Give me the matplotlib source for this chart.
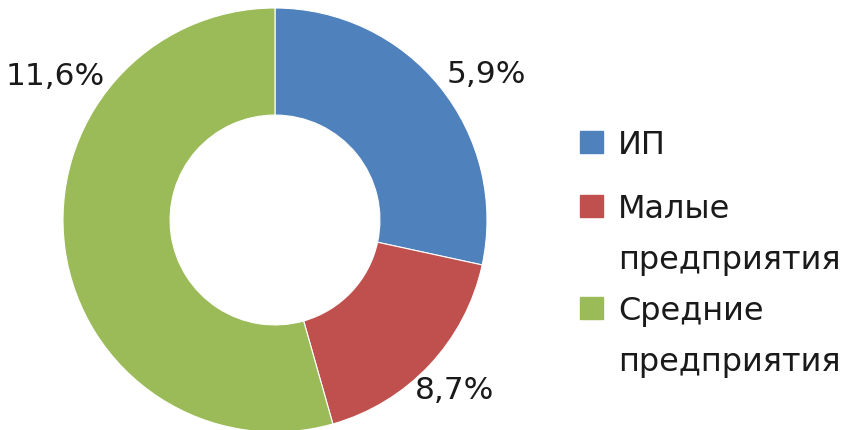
"""
Кольцевая диаграмма: доли ИП, малых и средних предприятий.
Сохраняет out.png (863x430).
"""
import matplotlib
matplotlib.use("Agg")
import matplotlib.pyplot as plt
from matplotlib.patches import Rectangle

plt.rcParams["font.family"] = ["DejaVu Sans"]

# Данные
categories = ["ИП", "Малые\nпредприятия", "Средние\nпредприятия"]
shares = [28.4, 17.2, 54.4]          # угловые доли сегментов
value_labels = ["5,9%", "8,7%", "11,6%"]
colors = ["#4F81BD", "#C0504D", "#9BBB59"]

# Положение подписей (в единицах радиуса кольца)
LABEL_XY = [(0.995, 0.684), (0.849, -0.802), (-1.038, 0.675)]

W, H = 863, 430
FS_LABEL = 22.5
FS_LEGEND = 23


def main() -> None:
    fig = plt.figure(figsize=(W / 100, H / 100), dpi=100)
    cx, cy, r = 275, 220, 212
    ax = fig.add_axes([(cx - r) / W, (H - cy - r) / H, 2 * r / W, 2 * r / H])
    ax.pie(
        shares,
        colors=colors,
        startangle=90,
        counterclock=False,
        radius=1,
        wedgeprops=dict(width=0.505, edgecolor="white", linewidth=0.8),
    )
    ax.set_xlim(-1, 1)
    ax.set_ylim(-1, 1)
    ax.set_aspect("equal")
    ax.axis("off")

    for (x, y), txt in zip(LABEL_XY, value_labels):
        ax.text(x, y, txt, ha="center", va="center", fontsize=FS_LABEL,
                color="#1a1a1a", clip_on=False)

    # Легенда: квадрат у первой строки подписи
    first_baselines = [154, 218, 320]
    line_step = 51
    for base, cat, col in zip(first_baselines, categories, colors):
        fig.patches.append(Rectangle((580 / W, 1 - (base - 1) / H), 23 / W, 22 / H,
                                     transform=fig.transFigure, color=col))
        for i, line in enumerate(cat.split("\n")):
            fig.text(618 / W, 1 - (base + i * line_step) / H, line,
                     ha="left", va="baseline", fontsize=FS_LEGEND, color="#1a1a1a")

    fig.savefig("out.png", dpi=100)
    plt.close(fig)


if __name__ == "__main__":
    main()
